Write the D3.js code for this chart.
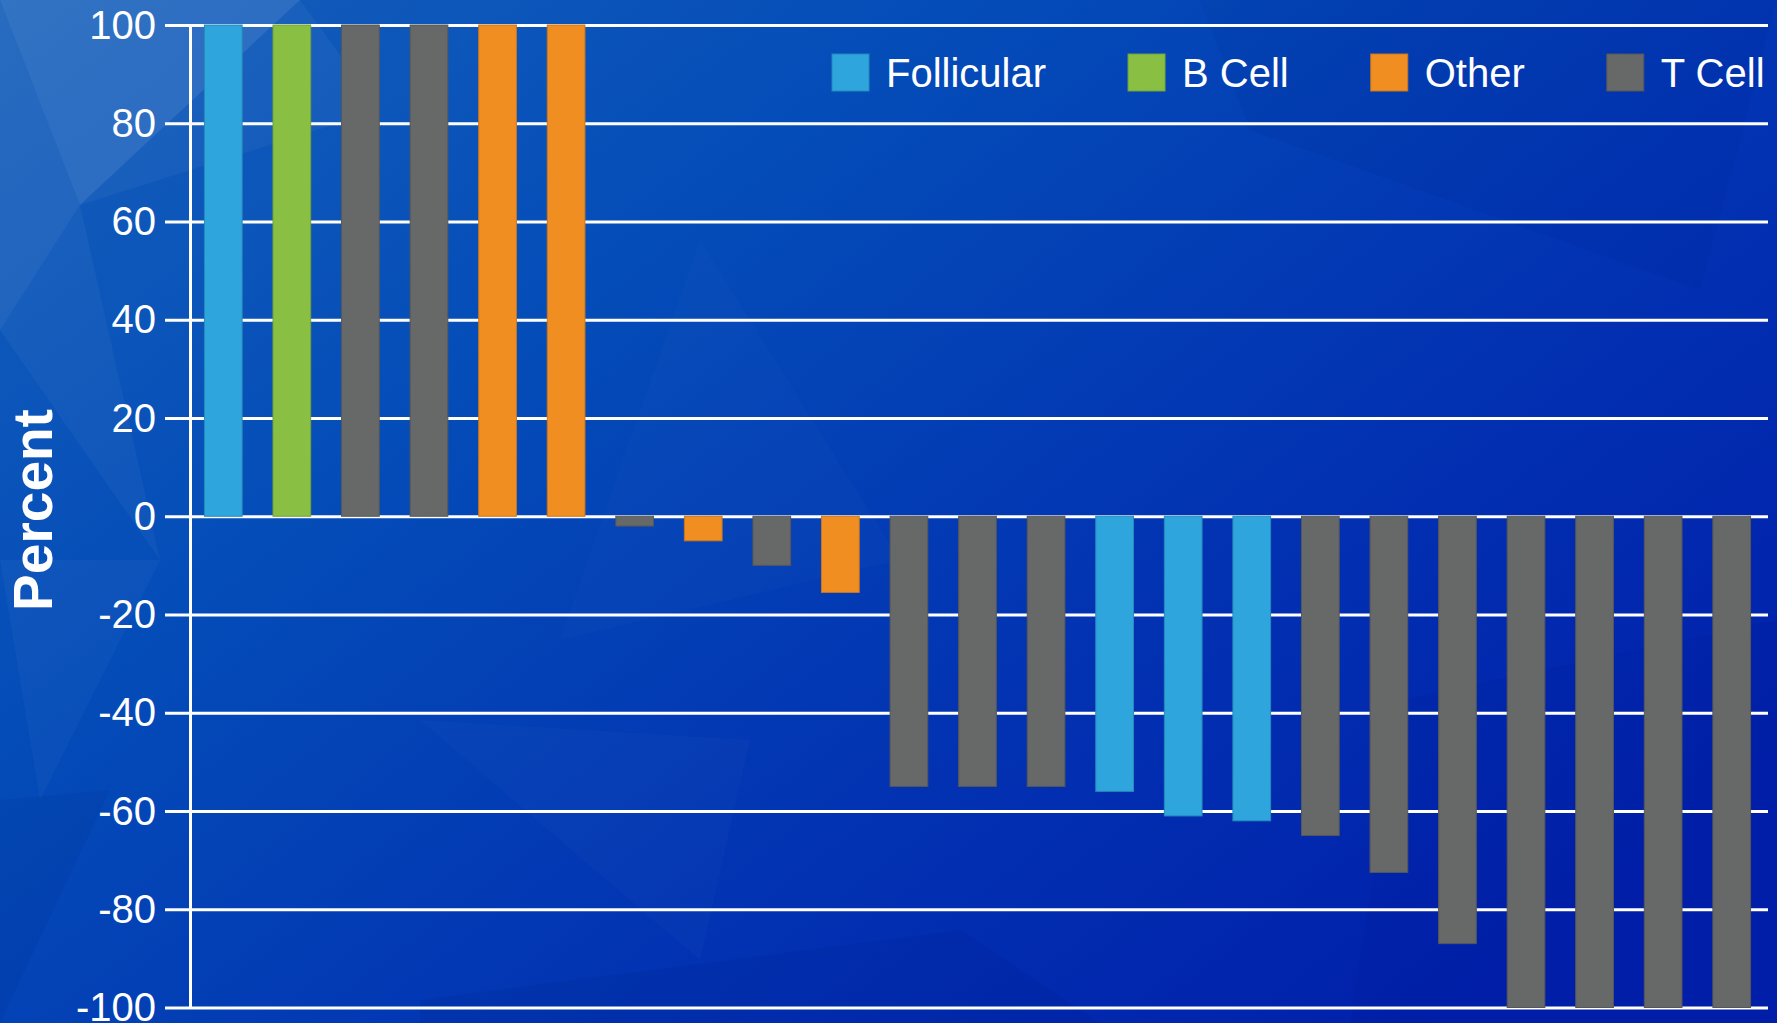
<!DOCTYPE html>
<html>
<head>
<meta charset="utf-8">
<script src="https://cdn.jsdelivr.net/npm/d3@7"></script>
<style>
  html, body { margin: 0; padding: 0; background: #0a4ab6; }
  svg { display: block; }
  text { font-family: "Liberation Sans", Arial, sans-serif; fill: #fff; }
</style>
</head>
<body>
<svg id="chart" width="1777" height="1023"></svg>
<script>
// Patient-level percent change, ordered from best to worst, coloured by lymphoma type
const patientTypes = [
  "Follicular", "B Cell", "T Cell", "T Cell", "Other", "Other",
  "T Cell", "Other", "T Cell", "Other",
  "T Cell", "T Cell", "T Cell",
  "Follicular", "Follicular", "Follicular",
  "T Cell", "T Cell", "T Cell",
  "T Cell", "T Cell", "T Cell", "T Cell"
];
const percentChange = [
  100, 100, 100, 100, 100, 100,
  -2, -5, -10, -15.5,
  -55, -55, -55,
  -56, -61, -62,
  -65, -72.5, -87,
  -100, -100, -100, -100
];
const legendTypes = ["Follicular", "B Cell", "Other", "T Cell"];
const typeColors = ["#2fa5dd", "#89c043", "#f18e22", "#676868"];
const yTicks = [-100, -80, -60, -40, -20, 0, 20, 40, 60, 80, 100];

const svg = d3.select("#chart");
const W = 1777, H = 1023;

// ---- faceted blue background ----
const defs = svg.append("defs");
const grad = defs.append("linearGradient")
  .attr("id", "bg").attr("x1", 0).attr("y1", 0).attr("x2", 1).attr("y2", 0.75);
grad.append("stop").attr("offset", 0).attr("stop-color", "#1660bb");
grad.append("stop").attr("offset", 0.35).attr("stop-color", "#044cb8");
grad.append("stop").attr("offset", 0.7).attr("stop-color", "#0232b2");
grad.append("stop").attr("offset", 1).attr("stop-color", "#0120ab");
svg.append("rect").attr("width", W).attr("height", H).attr("fill", "url(#bg)");

const facets = [
  { p: [[0,0],[300,0],[80,205]], c: "#ffffff", o: 0.12 },
  { p: [[0,0],[80,205],[0,330]], c: "#ffffff", o: 0.08 },
  { p: [[80,205],[300,0],[380,110]], c: "#ffffff", o: 0.04 },
  { p: [[0,330],[80,205],[160,560]], c: "#ffffff", o: 0.04 },
  { p: [[0,560],[160,560],[40,800]], c: "#ffffff", o: 0.03 },
  { p: [[0,800],[110,790],[0,1023]], c: "#000033", o: 0.05 },
  { p: [[420,720],[750,740],[700,960]], c: "#ffffff", o: 0.02 },
  { p: [[420,1000],[960,930],[1100,1023],[420,1023]], c: "#000040", o: 0.05 },
  { p: [[1250,130],[1700,290],[1777,0],[1200,0]], c: "#000040", o: 0.04 },
  { p: [[1400,700],[1777,620],[1777,1023],[1350,1023]], c: "#000040", o: 0.04 },
  { p: [[700,240],[900,560],[560,640]], c: "#ffffff", o: 0.015 }
];
svg.append("g").selectAll("polygon").data(facets).join("polygon")
  .attr("points", d => d.p.map(q => q.join(",")).join(" "))
  .attr("fill", d => d.c).attr("fill-opacity", d => d.o);

// ---- scales ----
const plotLeft = 190, plotRight = 1768, plotTop = 25, plotBottom = 1007.5;
const x = d3.scaleBand()
  .domain(d3.range(percentChange.length))
  .range([189, 1766])
  .paddingInner(0.45)
  .paddingOuter(0.225);
const y = d3.scaleLinear().domain([-100, 100]).range([plotBottom, plotTop]);
const color = d3.scaleOrdinal().domain(legendTypes).range(typeColors);

// ---- gridlines ----
const grid = svg.append("g").attr("transform", `translate(${plotLeft},0)`)
  .call(d3.axisLeft(y).tickValues(yTicks).tickSize(-(plotRight - plotLeft)).tickSizeOuter(0).tickFormat(""));
grid.select(".domain").remove();
grid.selectAll("line").attr("stroke", "#ffffff").attr("stroke-width", 3);

// ---- y axis with labels (plain hyphen for negatives) ----
const yAxis = svg.append("g").attr("transform", `translate(${plotLeft},0)`)
  .call(d3.axisLeft(y).tickValues(yTicks).tickSize(25).tickSizeOuter(0).tickPadding(9)
    .tickFormat(d => String(d)));
yAxis.select(".domain").attr("stroke", "#ffffff").attr("stroke-width", 3);
yAxis.selectAll("line").attr("stroke", "#ffffff").attr("stroke-width", 3);
yAxis.selectAll("text")
  .attr("fill", "#ffffff")
  .attr("dy", "0.33em")
  .style("font-family", "'Liberation Sans', Arial, sans-serif")
  .style("font-size", "40px");

// ---- bars ----
svg.append("g").selectAll("rect")
  .data(percentChange.map((v, i) => ({ v, i, t: patientTypes[i] })))
  .join("rect")
  .attr("x", d => x(d.i))
  .attr("width", x.bandwidth())
  .attr("y", d => y(Math.max(0, d.v)))
  .attr("height", d => Math.abs(y(d.v) - y(0)))
  .attr("fill", d => color(d.t))
  .attr("stroke", d => d3.color(color(d.t)).darker(0.5))
  .attr("stroke-width", 1);

// ---- y axis title ----
svg.append("text")
  .attr("transform", "translate(52,510) rotate(-90)")
  .attr("text-anchor", "middle")
  .style("font-size", "55px")
  .style("font-weight", "bold")
  .text("Percent");

// ---- legend ----
const legend = svg.append("g").attr("transform", "translate(832,54)");
let lx = 0;
legendTypes.forEach(t => {
  const g = legend.append("g").attr("transform", `translate(${lx},0)`);
  g.append("rect").attr("width", 37).attr("height", 37)
    .attr("fill", color(t)).attr("stroke", d3.color(color(t)).darker(0.5)).attr("stroke-width", 1);
  const label = g.append("text").attr("x", 54).attr("y", 33)
    .style("font-size", "40px").text(t);
  lx += 54 + label.node().getComputedTextLength() + 82;
});
</script>
</body>
</html>
